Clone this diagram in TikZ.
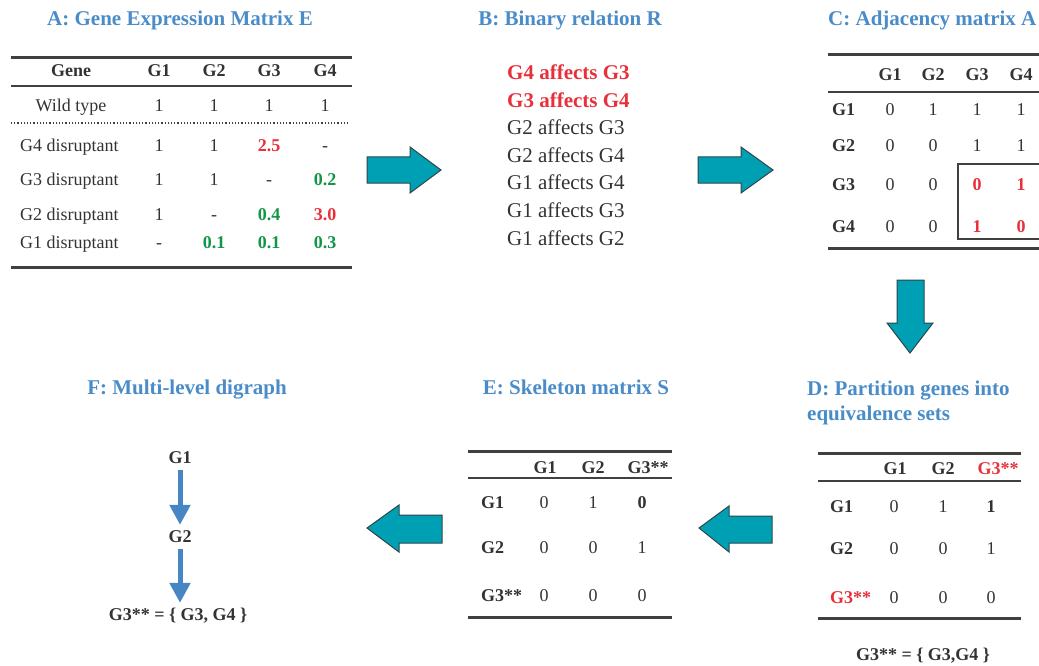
\documentclass[tikz,border=0pt]{standalone}
\usepackage{fontspec}
\setmainfont{Liberation Serif}
\usetikzlibrary{arrows.meta}
\definecolor{ttlblue}{RGB}{74,140,200}
\definecolor{ink}{RGB}{51,51,51}
\definecolor{rulegray}{RGB}{64,64,60}
\definecolor{hotred}{RGB}{232,48,58}
\definecolor{leafgreen}{RGB}{18,150,70}
\definecolor{arrowteal}{RGB}{0,160,180}
\definecolor{arrowedge}{RGB}{46,70,74}
\definecolor{digraphblue}{RGB}{70,134,197}

\begin{document}
\begin{tikzpicture}[x=1pt, y=-1pt,
  ttl/.style={font=\bfseries\fontsize{21}{25}\selectfont, text=ttlblue, inner sep=0pt, text height=13.9pt, text depth=0pt},
  hd/.style={font=\bfseries\fontsize{18}{21}\selectfont, text=ink, inner sep=0pt, text height=11.9pt, text depth=0pt},
  vl/.style={font=\fontsize{18}{21}\selectfont, text=ink, inner sep=0pt, text height=11.9pt, text depth=0pt},
  hival/.style={hd, text=hotred},
  loval/.style={hd, text=leafgreen},
  rel/.style={font=\fontsize{21}{25}\selectfont, text=ink, inner sep=0pt, text height=13.9pt, text depth=0pt, anchor=west},
  hirel/.style={rel, font=\bfseries\fontsize{21}{25}\selectfont, text=hotred},
  thickrule/.style={rulegray, line width=3pt},
  thinrule/.style={rulegray, line width=1.3pt},
  blockarrow/.style={fill=arrowteal, draw=arrowedge, line width=1pt, line join=miter},
  levelarrow/.style={digraphblue, line width=5pt, -{Triangle[width=20pt,length=20pt]}, shorten <=6pt, shorten >=6pt}]
\useasboundingbox (0,0) rectangle (1039,666);

% A: gene expression matrix
\node[ttl] (tA) at (180,19) {A: Gene Expression Matrix E};
\draw[thickrule] (11,58) -- (352,58);
\draw[thinrule] (11,86) -- (352,86);
\draw[rulegray, line width=1.2pt, dotted] (11,123) -- (350,123);
\draw[thickrule] (11,267) -- (352,267);
\node[hd] (aGene) at (71,71) {Gene};
\node[hd] (aH1) at (159,71) {G1};
\node[hd] (aH2) at (214,71) {G2};
\node[hd] (aH3) at (269,71) {G3};
\node[hd] (aH4) at (325,71) {G4};
\node[vl] (aWild) at (71,106) {Wild type};
\node[vl] (aW1) at (159,106) {1};
\node[vl] (aW2) at (214,106) {1};
\node[vl] (aW3) at (269,106) {1};
\node[vl] (aW4) at (325,106) {1};
\node[vl, anchor=west] (aD4) at (20,146) {G4 disruptant};
\node[vl] (aD41) at (159,146) {1};
\node[vl] (aD42) at (214,146) {1};
\node[hival] (aD43) at (269,146) {2.5};
\node[vl] (aD44) at (325,146) {-};
\node[vl, anchor=west] (aD3) at (20,180) {G3 disruptant};
\node[vl] (aD31) at (159,180) {1};
\node[vl] (aD32) at (214,180) {1};
\node[vl] (aD33) at (269,180) {-};
\node[loval] (aD34) at (325,180) {0.2};
\node[vl, anchor=west] (aD2) at (20,215) {G2 disruptant};
\node[vl] (aD21) at (159,215) {1};
\node[vl] (aD22) at (214,215) {-};
\node[loval] (aD23) at (269,215) {0.4};
\node[hival] (aD24) at (325,215) {3.0};
\node[vl, anchor=west] (aD1) at (20,243) {G1 disruptant};
\node[vl] (aD11) at (159,243) {-};
\node[loval] (aD12) at (214,243) {0.1};
\node[loval] (aD13) at (269,243) {0.1};
\node[loval] (aD14) at (325,243) {0.3};

% B: binary relation
\node[ttl] (tB) at (570,19) {B: Binary relation R};
\node[hirel] (r43) at (507,73) {G4 affects G3};
\node[hirel] (r34) at (507,101) {G3 affects G4};
\node[rel] (r23) at (507,128) {G2 affects G3};
\node[rel] (r24) at (507,156) {G2 affects G4};
\node[rel] (r14) at (507,183) {G1 affects G4};
\node[rel] (r13) at (507,211) {G1 affects G3};
\node[rel] (r12) at (507,239) {G1 affects G2};

% block arrows between the steps
\draw[blockarrow] (367,157) -- (410,157) -- (410,147) -- (441,170) -- (410,193) -- (410,183) -- (367,183) -- cycle;
\draw[blockarrow] (698,157) -- (741,157) -- (741,147) -- (773,170) -- (741,193) -- (741,183) -- (698,183) -- cycle;
\draw[blockarrow] (897,280) -- (924,280) -- (924,323) -- (933,323) -- (910,353) -- (887,323) -- (897,323) -- cycle;
\draw[blockarrow] (772,516) -- (729,516) -- (729,506) -- (699,528) -- (729,552) -- (729,543) -- (772,543) -- cycle;
\draw[blockarrow] (442,515) -- (399,515) -- (399,505) -- (367,528) -- (399,552) -- (399,543) -- (442,543) -- cycle;

% C: adjacency matrix
\node[ttl, anchor=west] (tC) at (828,19) {C: Adjacency matrix A};
\draw[thickrule] (828,55) -- (1045,55);
\draw[thinrule] (828,92) -- (1045,92);
\draw[thickrule] (828,248) -- (1045,248);
\node[hd] (cH1) at (890,75) {G1};
\node[hd] (cH2) at (933,75) {G2};
\node[hd] (cH3) at (977,75) {G3};
\node[hd] (cH4) at (1021,75) {G4};
\node[hd, anchor=west] (cR1) at (832,110) {G1};
\node[vl] (c11) at (890,110) {0};
\node[vl] (c12) at (933,110) {1};
\node[vl] (c13) at (977,110) {1};
\node[vl] (c14) at (1021,110) {1};
\node[hd, anchor=west] (cR2) at (832,146) {G2};
\node[vl] (c21) at (890,146) {0};
\node[vl] (c22) at (933,146) {0};
\node[vl] (c23) at (977,146) {1};
\node[vl] (c24) at (1021,146) {1};
\node[hd, anchor=west] (cR3) at (832,185) {G3};
\node[vl] (c31) at (890,185) {0};
\node[vl] (c32) at (933,185) {0};
\node[hival] (c33) at (977,185) {0};
\node[hival] (c34) at (1021,185) {1};
\node[hd, anchor=west] (cR4) at (832,227) {G4};
\node[vl] (c41) at (890,227) {0};
\node[vl] (c42) at (933,227) {0};
\node[hival] (c43) at (977,227) {1};
\node[hival] (c44) at (1021,227) {0};
\draw[rulegray, line width=1.3pt] (958,164) rectangle (1055,239);

% D: equivalence sets
\node[ttl, anchor=base west, align=left, text height=, text depth=] (tD) at (807,420) {D: Partition genes into\\equivalence sets};
\draw[thickrule] (818,453) -- (1021,453);
\draw[thinrule] (818,481) -- (1021,481);
\draw[thickrule] (818,618) -- (1021,618);
\node[hd] (dH1) at (895,469) {G1};
\node[hd] (dH2) at (943,469) {G2};
\node[hival] (dH3) at (998,469) {G3**};
\node[hd, anchor=west] (dR1) at (830,507) {G1};
\node[vl] (d11) at (894,507) {0};
\node[vl] (d12) at (943,507) {1};
\node[hd] (d13) at (991,507) {1};
\node[hd, anchor=west] (dR2) at (830,549) {G2};
\node[vl] (d21) at (894,549) {0};
\node[vl] (d22) at (943,549) {0};
\node[vl] (d23) at (991,549) {1};
\node[hival, anchor=west] (dR3) at (830,598) {G3**};
\node[vl] (d31) at (894,598) {0};
\node[vl] (d32) at (943,598) {0};
\node[vl] (d33) at (991,598) {0};
\node[hd] (dSet) at (923,655) {G3** = \{ G3,G4 \}};

% E: skeleton matrix
\node[ttl] (tE) at (576,388) {E: Skeleton matrix S};
\draw[thickrule] (468,451) -- (672,451);
\draw[thinrule] (468,478) -- (672,478);
\draw[thickrule] (468,617) -- (672,617);
\node[hd] (eH1) at (545,468) {G1};
\node[hd] (eH2) at (593,468) {G2};
\node[hd] (eH3) at (648,468) {G3**};
\node[hd, anchor=west] (eR1) at (481,503) {G1};
\node[vl] (e11) at (544,503) {0};
\node[vl] (e12) at (593,503) {1};
\node[hd] (e13) at (642,503) {0};
\node[hd, anchor=west] (eR2) at (481,548) {G2};
\node[vl] (e21) at (544,548) {0};
\node[vl] (e22) at (593,548) {0};
\node[vl] (e23) at (642,548) {1};
\node[hd, anchor=west] (eR3) at (481,596) {G3**};
\node[vl] (e31) at (544,596) {0};
\node[vl] (e32) at (593,596) {0};
\node[vl] (e33) at (642,596) {0};

% F: multi-level digraph
\node[ttl] (tF) at (187,388) {F: Multi-level digraph};
\node[hd] (fG1) at (180,458) {G1};
\node[hd] (fG2) at (180,537) {G2};
\node[hd] (fG3) at (178,615) {G3** = \{ G3, G4 \}};
\draw[levelarrow] (fG1.south) -- (fG2.north);
\draw[levelarrow] (fG2.south) -- (fG2.south |- fG3.north);
\end{tikzpicture}
\end{document}
